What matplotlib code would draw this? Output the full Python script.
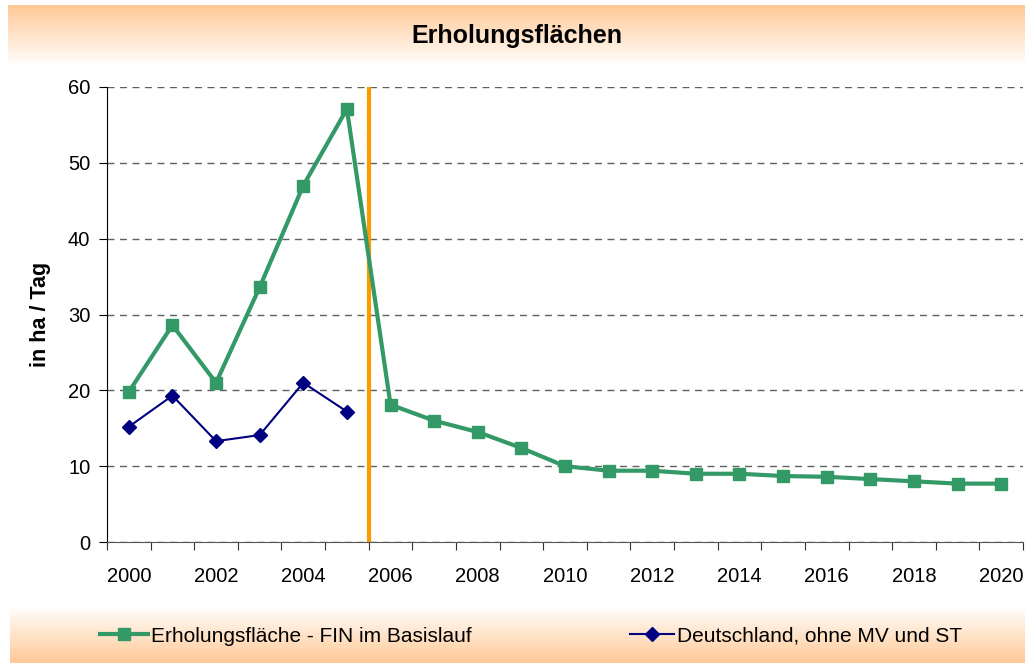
import numpy as np
import matplotlib
matplotlib.use("Agg")
import matplotlib.pyplot as plt
from matplotlib.colors import LinearSegmentedColormap
from matplotlib.lines import Line2D

# ----------------------------
# Daten
# ----------------------------
jahre = list(range(2000, 2021))
fin_basislauf = [19.8, 28.6, 21.0, 33.6, 47.0, 57.1, 18.1, 16.0, 14.5, 12.4, 10.0,
                 9.4, 9.4, 9.0, 9.0, 8.7, 8.6, 8.3, 8.0, 7.7, 7.7]
jahre_de = list(range(2000, 2006))
deutschland = [15.2, 19.3, 13.3, 14.1, 21.0, 17.2]

plt.rcParams["font.family"] = ["Liberation Sans", "DejaVu Sans"]

GRUEN = "#339966"
BLAU = "#000080"
ORANGE = "#FF9900"

fig = plt.figure(figsize=(10.33, 6.63), dpi=100)
W, H = 1033, 663

# Farbverlauf Orange -> Weiß
verlauf = LinearSegmentedColormap.from_list("verlauf", ["#FFC996", "#FFFFFF"])

# Titelbox (oben)
ax_t = fig.add_axes([8 / W, (H - 66) / H, 1017 / W, 61 / H])
ax_t.imshow(np.linspace(0, 1, 100).reshape(-1, 1), aspect="auto", cmap=verlauf,
            extent=[0, 1, 0, 1], origin="upper")
ax_t.axis("off")
ax_t.text(0.5, 0.5, "Erholungsflächen", ha="center", va="center",
          fontsize=18, fontweight="bold", transform=ax_t.transAxes)

# Legendenbox (unten)
ax_l = fig.add_axes([10 / W, 0, 1015 / W, 57 / H])
ax_l.imshow(np.linspace(0, 1, 100).reshape(-1, 1), aspect="auto", cmap=verlauf,
            extent=[0, 1, 0, 1], origin="lower")
ax_l.axis("off")

# ----------------------------
# Hauptdiagramm
# ----------------------------
ax = fig.add_axes([107 / W, (H - 542) / H, 916 / W, 455 / H])

x_fin = np.arange(len(jahre))
x_de = np.arange(len(jahre_de))

ax.set_axisbelow(True)
ax.grid(axis="y", linestyle=(0, (5, 4)), color="#606060", linewidth=1)
ax.axvline(5.5, color=ORANGE, linewidth=3, zorder=2)

ax.plot(x_fin, fin_basislauf, color=GRUEN, linewidth=3, marker="s",
        markersize=8, zorder=3)
ax.plot(x_de, deutschland, color=BLAU, linewidth=1.5, marker="D",
        markersize=7, zorder=4)

ax.set_xlim(-0.5, len(jahre) - 0.5)
ax.set_ylim(0, 60)
ax.set_yticks(range(0, 61, 10))

# Striche an den Kategoriegrenzen, Beschriftung jedes zweite Jahr
ax.set_xticks(np.arange(-0.5, len(jahre), 1.0))
ax.set_xticklabels([])
ax.set_xticks(x_fin[::2], minor=True)
ax.set_xticklabels([str(j) for j in jahre[::2]], minor=True)
ax.tick_params(axis="x", which="minor", length=0, pad=18, labelsize=14.5)
ax.tick_params(axis="x", which="major", length=6, color="#333333")
ax.tick_params(axis="y", length=6, labelsize=14.5, pad=6)

for s in ["top", "right"]:
    ax.spines[s].set_visible(False)
ax.spines["bottom"].set_color("#555555")

ax.set_ylabel("in ha / Tag", fontsize=15.5, fontweight="bold", labelpad=12)

# Legende
h_fin = Line2D([], [], color=GRUEN, linewidth=3, marker="s", markersize=8)
h_de = Line2D([], [], color=BLAU, linewidth=1.5, marker="D", markersize=7)
leg1 = fig.legend([h_fin], ["Erholungsfläche - FIN im Basislauf"], loc="center left",
                  bbox_to_anchor=(100 / W, (H - 636) / H), frameon=False, fontsize=15,
                  handlelength=2.3, handletextpad=0.15, borderpad=0, borderaxespad=0)
leg2 = fig.legend([h_de], ["Deutschland, ohne MV und ST"], loc="center left",
                  bbox_to_anchor=(630 / W, (H - 636) / H), frameon=False, fontsize=15,
                  handlelength=2.1, handletextpad=0.15, borderpad=0, borderaxespad=0)

fig.savefig("out.png", dpi=100)
